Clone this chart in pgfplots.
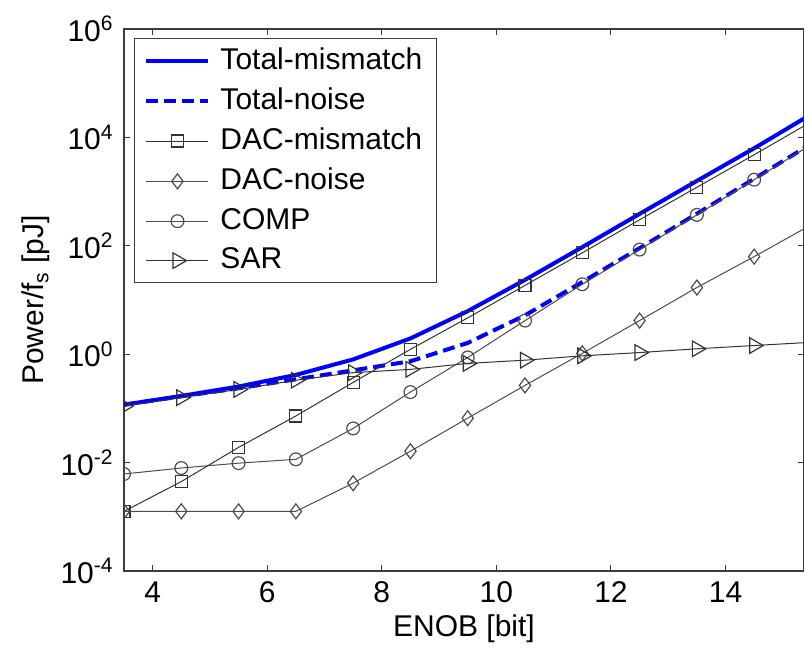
\documentclass[border=0pt]{standalone}
\usepackage{fontspec}
\setmainfont{Liberation Sans}
\usepackage{pgfplots}
\pgfplotsset{compat=1.18}
\definecolor{mblue}{RGB}{0,0,255}
\definecolor{axgray}{RGB}{60,60,60}
\begin{document}
\fontsize{15}{18}\selectfont
\begin{tikzpicture}
\begin{axis}[
  at={(0,0)}, anchor=south west,
  scale only axis,
  width=340pt, height=271pt,
  xmin=3.5, xmax=15.37,
  ymode=log, log basis y=10, ymin=1e-4, ymax=1e6,
  xtick={4,6,8,10,12,14},
  ytick={1e-4,1e-2,1,1e2,1e4,1e6},
  yticklabels={10\textsuperscript{-4},10\textsuperscript{-2},10\textsuperscript{0},10\textsuperscript{2},10\textsuperscript{4},10\textsuperscript{6}},
  xticklabel style={/pgf/number format/assume math mode=true},
  yminorticks=false,
  tick align=inside,
  major tick length=3pt,
  tick style={axgray, line width=0.5pt},
  axis line style={axgray, line width=0.6pt},
  clip marker paths=true,
  xlabel={ENOB [bit]},
  ylabel={Power/f\textsubscript{s} [pJ]},
  xlabel shift=-4pt,
  ylabel shift=-5pt,
  ticklabel style={font=\fontsize{15}{18}\selectfont},
  label style={font=\fontsize{15}{18}\selectfont},
  legend cell align=left,
  legend image code/.code={\draw[mark repeat=2,mark phase=2] plot coordinates {(0pt,0pt) (15.5pt,0pt) (31pt,0pt)};},
  legend style={at={(0,1)}, anchor=north west, xshift=5pt, yshift=-4.5pt,
    draw=axgray, line width=0.5pt, fill=white,
    font=\fontsize{15}{18}\selectfont,
    inner xsep=5pt, inner ysep=2.5pt, row sep=3pt,
    /tikz/every odd column/.append style={column sep=3pt}},
]
\addplot[mblue, line width=2pt] coordinates {
(3.5,0.117) (4.5,0.170) (5.5,0.253) (6.5,0.415) (7.5,0.802) (8.5,1.955)
(9.5,6.23) (10.5,23.5) (11.5,94.5) (12.5,388) (13.5,1575) (14.5,6300) (15.5,26900)};
\addlegendentry{Total-mismatch}
\addplot[mblue, line width=2pt, dash pattern=on 6pt off 3pt] coordinates {
(3.5,0.117) (4.5,0.167) (5.5,0.235) (6.5,0.344) (7.5,0.504) (8.5,0.741)
(9.5,1.613) (10.5,5.21) (11.5,21.5) (12.5,90.3) (13.5,390) (14.5,1725) (15.5,7660)};
\addlegendentry{Total-noise}
\addplot[black!80, line width=0.5pt, mark=square, mark size=3pt, mark options={solid, line width=0.6pt}] coordinates {
(3.5,1.26e-3) (4.5,4.47e-3) (5.5,1.91e-2) (6.5,7.24e-2) (7.5,0.302) (8.5,1.23)
(9.5,4.68) (10.5,18.6) (11.5,74.1) (12.5,302) (13.5,1202) (14.5,4786) (15.5,19498)};
\addlegendentry{DAC-mismatch}
\addplot[black!70, line width=0.5pt, mark=diamond, mark size=3.75pt, mark options={solid, line width=0.6pt}] coordinates {
(3.5,1.26e-3) (4.5,1.26e-3) (5.5,1.26e-3) (6.5,1.26e-3) (7.5,4.17e-3) (8.5,1.62e-2)
(9.5,6.61e-2) (10.5,0.266) (11.5,1.035) (12.5,4.17) (13.5,17.0) (14.5,63.1) (15.5,245)};
\addlegendentry{DAC-noise}
\addplot[black!70, line width=0.5pt, mark=o, mark size=3.2pt, mark options={solid, line width=0.6pt}] coordinates {
(3.5,6.17e-3) (4.5,7.94e-3) (5.5,9.77e-3) (6.5,1.15e-2) (7.5,4.27e-2) (8.5,0.200)
(9.5,0.871) (10.5,4.17) (11.5,19.5) (12.5,85.1) (13.5,372) (14.5,1660) (15.5,7413)};
\addlegendentry{COMP}
\addplot[black!80, line width=0.5pt, mark=triangle, mark size=4.5pt, mark options={solid, rotate=-90, line width=0.6pt}] coordinates {
(3.5,0.1096) (4.5,0.158) (5.5,0.224) (6.5,0.331) (7.5,0.457) (8.5,0.525)
(9.5,0.676) (10.5,0.776) (11.5,0.933) (12.5,1.072) (13.5,1.259) (14.5,1.445) (15.5,1.66)};
\addlegendentry{SAR}
\end{axis}
\pgfresetboundingbox
\useasboundingbox (-62pt,-38.5pt) rectangle (340pt,285.5pt);
\end{tikzpicture}
\end{document}
